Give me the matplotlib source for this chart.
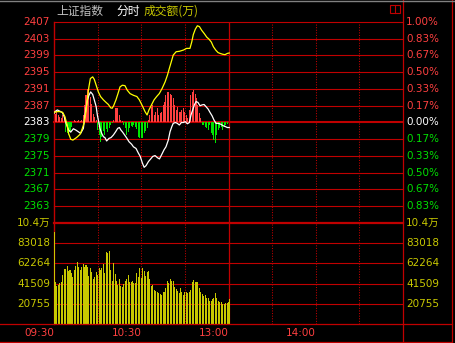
import numpy as np
import matplotlib
matplotlib.use("Agg")
import matplotlib.pyplot as plt
from matplotlib.transforms import blended_transform_factory
from matplotlib.lines import Line2D
from matplotlib.patches import Rectangle

plt.rcParams['font.family'] = ['DejaVu Sans', 'Noto Sans CJK SC']

W, H = 455, 343

# ---- data (minute index since 09:30) ----
prev_close = 2383
price_levels = [2407, 2403, 2399, 2395, 2391, 2387, 2383, 2379, 2375, 2371, 2367, 2363]
pct_labels = ["1.00%", "0.83%", "0.67%", "0.50%", "0.33%", "0.17%", "0.00%",
              "0.17%", "0.33%", "0.50%", "0.67%", "0.83%"]
vol_levels = [103773, 83018, 62264, 41509, 20755]
vol_labels = ["10.4万", "83018", "62264", "41509", "20755"]
time_ticks = [0, 60, 120, 180]
time_labels = ["09:30", "10:30", "13:00", "14:00"]

yellow_t = [0, 2, 4, 6, 7.5, 9, 10, 11.5, 13, 15.5, 18, 19.5, 20.6, 22, 23, 24, 25, 26.6, 27.7, 29,
            30.5, 32, 34, 35.8, 37.4, 39, 40, 41, 42.6, 44, 45.4, 47, 48.8, 50.4, 52.3, 54.6, 57,
            58.7, 61, 62.6, 64, 65.3, 67.2, 68.8, 70.6, 72.4, 74.3, 76.4, 78, 79.3, 81, 82, 84,
            86.2, 89, 91.2, 93.5, 94.7, 95.8, 97.2, 98.6, 100, 101.6, 103.4, 105, 106.6, 108.2,
            109.6, 111.2, 112.8, 114.2, 116, 117.6, 119.2, 120.5]
yellow_p = [2385.4, 2385.6, 2385.6, 2385.4, 2384.4, 2382.4, 2380.4, 2379.0, 2378.8, 2379.4, 2380.2,
            2381.6, 2382.8, 2385.6, 2388.8, 2391.5, 2393.5, 2393.9, 2393.3, 2391.9, 2390.3, 2389.2,
            2388.4, 2387.8, 2387.3, 2386.5, 2386.4, 2387.0, 2388.4, 2389.9, 2391.5, 2391.9, 2391.8,
            2390.7, 2389.9, 2389.5, 2389.2, 2388.4, 2386.8, 2385.6, 2384.8, 2386.0, 2387.3, 2388.4,
            2389.2, 2389.9, 2391.1, 2392.7, 2394.3, 2395.9, 2397.9, 2399.1, 2399.9, 2400.0, 2400.3,
            2400.7, 2400.7, 2402.2, 2404.0, 2405.3, 2406.1, 2405.9, 2405.0, 2404.2, 2403.4, 2402.9,
            2402.2, 2401.1, 2400.3, 2399.7, 2399.5, 2399.3, 2399.2, 2399.5, 2399.6]

white_t = [0, 0.7, 2.3, 4, 5.7, 7, 8.3, 10, 11.5, 13.3, 15, 16.7, 18.3, 20.2, 21, 22, 23, 24, 25.2,
           26.6, 27.7, 29, 29.8, 30.7, 31.6, 32.8, 34, 35, 36.2, 37.8, 39.2, 40.8, 42.4, 43.8, 45,
           46, 47.2, 48.8, 50, 51.6, 53.4, 54.6, 56.4, 58, 59.3, 60.8, 62, 63.3, 65, 66.5, 67.9,
           69.5, 71.1, 72.5, 74, 75.7, 77, 78.6, 79.8, 81, 82, 83.5, 84.8, 86.2, 87.6, 89, 90.3,
           91.7, 93.1, 94.2, 95.4, 96.5, 97.7, 99, 100.4, 101.8, 103.2, 104.5, 106, 107.3, 108.7,
           110, 111.4, 113, 114.6, 116.5, 118, 119.2, 120.5]
white_p = [2385.2, 2385.6, 2386.0, 2385.7, 2385.4, 2384.4, 2382.8, 2381.2, 2380.7, 2381.5, 2381.2,
           2380.8, 2380.4, 2381.6, 2384.0, 2386.4, 2388.4, 2389.5, 2390.3, 2389.7, 2388.4, 2386.8,
           2384.8, 2383.2, 2381.6, 2380.4, 2379.6, 2379.4, 2378.6, 2379.2, 2379.4, 2380.0, 2380.8,
           2381.6, 2381.8, 2381.2, 2380.7, 2379.9, 2379.3, 2378.4, 2377.8, 2377.2, 2376.8, 2375.7,
           2374.9, 2373.3, 2372.3, 2372.7, 2373.7, 2374.3, 2374.9, 2375.1, 2374.6, 2374.3, 2375.3,
           2376.5, 2377.2, 2378.8, 2380.8, 2382.0, 2382.8, 2383.0, 2382.8, 2382.4, 2383.0, 2383.0,
           2383.2, 2382.7, 2383.0, 2384.8, 2386.0, 2387.2, 2388.0, 2387.8, 2387.0, 2387.2, 2387.3,
           2386.8, 2386.2, 2385.4, 2384.6, 2383.6, 2382.8, 2382.8, 2382.6, 2382.2, 2382.0, 2381.8,
           2381.8]

# red/green strength bars, one per minute (drawn from the 2383 line)
strength = [0, 2.1, 2.5, 1.7, 1.4, 1.0, 1.7, 1.3, -2.2, -2.6, -3.0, -2.0, -1.0, 0.2, 0.5, 0.3, 0.4,
            0.6, 0.3, 0.5, 1.8, 4.2, 6.5, 8.1, 7.3, 6.2, 4.5, 2.0, 1.4, 0.5, -1.8, -3.0, -4.7, -3.4,
            -2.0, -3.0, -1.5, -2.2, -1.2, -0.6, -0.2, 0.5, 3.4, 3.5, 3.4, 1.8, 0.6, 0.3, -0.5, -1.2,
            -3.0, -2.2, -1.4, -0.8, -1.0, -0.6, -1.0, -1.5, -3.4, -3.8, -3.6, -3.8, -2.6, -2.0, -1.4,
            0.6, 1.8, 3.8, 4.2, 1.8, 2.6, 3.4, 1.8, 2.2, 2.6, 4.2, 5.0, 6.5, 7.2, 7.2, 6.8, 6.5, 5.8,
            4.2, 3.0, 3.6, 2.6, 2.4, 3.0, 3.4, 2.6, 1.8, 1.0, 3.0, 6.5, 7.2, 7.7, 6.9, 5.8, 4.2, 2.2,
            1.0, -0.6, -0.6, -1.0, -1.4, -1.8, -0.6, -2.6, -3.0, -4.2, -5.0, -3.0, -1.8, -1.4, -1.0,
            -1.8, -1.0, -0.6, -0.4, 0]

volume = [94500, 43000, 39000, 40000, 42000, 43000, 50500, 56700, 57000, 59800, 54600, 55600, 52900,
          48800, 55000, 60000, 64000, 58800, 55000, 59000, 61800, 58800, 60500, 58400, 49500, 58000,
          53600, 46400, 48800, 53600, 50000, 57400, 55600, 58000, 61800, 52900, 73500, 72800, 75200,
          55600, 44300, 62200, 51500, 44300, 40200, 46000, 39200, 38500, 41000, 44300, 46700, 50500,
          43300, 43300, 44000, 42000, 42000, 52900, 47800,
          58000, 47100, 58000, 54600, 49500, 53900, 54600, 46000, 39500, 40200, 35000, 34000, 32600,
          31600, 30900, 29900, 33300, 33300, 36800, 44300, 41900, 46000, 44300, 44300, 37800, 36100,
          34400, 31600, 36800, 33300, 29900, 33300, 33300, 31600, 33300, 35000, 43600, 45400, 42900,
          43300, 43300, 36800, 33300, 30900, 28900, 29900, 26500, 26500, 24100, 24100, 25400, 27100,
          31600, 26500, 23700, 22300, 23000, 20300, 20600, 21300, 21300, 23000, 25800]

# ---- colours ----
BG = "#000000"
GRID = "#c00000"
RED_TXT = "#ff4040"
GREEN_TXT = "#00e000"
YEL = "#c8c800"
RED_BAR = "#ff4040"
GREEN_BAR = "#00e600"

fig = plt.figure(figsize=(W / 100, H / 100), dpi=100, facecolor=BG)


def fx(px):
    return px / W


def fy(py):
    return 1 - py / H


ax_p = fig.add_axes([fx(54), fy(223), fx(403) - fx(54), fy(22) - fy(223)], facecolor=BG)
ax_v = fig.add_axes([fx(54), fy(324), fx(403) - fx(54), fy(223) - fy(324)], facecolor=BG)

for ax in (ax_p, ax_v):
    ax.set_xlim(0, 240)
    for s in ax.spines.values():
        s.set_visible(False)
    ax.set_xticks([])
    ax.set_yticks([])
    for m in (30, 60, 90, 150, 180, 210):
        ax.axvline(m, color=GRID, lw=0.75, ls=(0, (1, 1.5)), zorder=1)
    ax.axvline(120, color=GRID, lw=0.9, zorder=1)
    ax.axvline(0, color=GRID, lw=1.0, zorder=1, clip_on=False)

ax_p.set_ylim(prev_close - 24, prev_close + 24)
ax_v.set_ylim(0, vol_levels[0])

# price pane grid
for lv in price_levels:
    ax_p.axhline(lv, color=GRID, lw=1.5 if lv == prev_close else 0.8, zorder=1, clip_on=False)

# volume pane grid
for lv in vol_levels[1:]:
    ax_v.axhline(lv, color=GRID, lw=0.8, zorder=1)
ax_v.axhline(vol_levels[0], color=GRID, lw=1.6, zorder=1, clip_on=False)

# strength bars
mins = np.arange(len(strength))
st = np.array(strength)
ax_p.bar(mins, np.where(st > 0, st, 0), bottom=prev_close, width=0.7, color=RED_BAR,
         antialiased=False, zorder=2)
ax_p.bar(mins, np.where(st < 0, st, 0), bottom=prev_close, width=0.7, color=GREEN_BAR,
         antialiased=False, zorder=2)

# price lines
ax_p.plot(white_t, white_p, color="white", lw=0.9, zorder=3)
ax_p.plot(yellow_t, yellow_p, color="#ffff00", lw=0.9, zorder=3)

# volume bars
ax_v.bar(np.arange(len(volume)), volume, width=0.7, color=YEL, antialiased=False, zorder=2)

# left / right labels
tl_p = blended_transform_factory(fig.transFigure, ax_p.transData)
for lv, pct in zip(price_levels, pct_labels):
    c = RED_TXT if lv > prev_close else ("white" if lv == prev_close else GREEN_TXT)
    ax_p.text(fx(50), lv, str(lv), transform=tl_p, ha="right", va="center", color=c,
              fontsize=7.5, clip_on=False)
    ax_p.text(fx(406), lv, pct, transform=tl_p, ha="left", va="center", color=c,
              fontsize=7.5, clip_on=False)

tl_v = blended_transform_factory(fig.transFigure, ax_v.transData)
for lv, lab in zip(vol_levels, vol_labels):
    ax_v.text(fx(50), lv, lab, transform=tl_v, ha="right", va="center", color=YEL,
              fontsize=7.5, clip_on=False)
    ax_v.text(fx(406), lv, lab, transform=tl_v, ha="left", va="center", color=YEL,
              fontsize=7.5, clip_on=False)

# time axis labels
tt = blended_transform_factory(ax_v.transData, fig.transFigure)
for m, lab in zip(time_ticks, time_labels):
    ax_v.text(m, fy(333), lab, transform=tt, ha="right", va="center", color=RED_TXT,
              fontsize=7.5, clip_on=False)

# title
cjk = ['Noto Sans CJK SC', 'DejaVu Sans']
fig.text(fx(56), fy(11), "上证指数", color="#c0c0c0", fontsize=8.5, family=cjk, va="center")
fig.text(fx(116), fy(11), "分时", color="white", fontsize=8.5, family=cjk, va="center")
fig.text(fx(144), fy(11), "成交额(万)", color=YEL, fontsize=8.5, family=cjk, va="center")

# frame lines outside the panes
frame = [((0, 452), (324, 324)), ((0, 452), (342, 342)), ((403, 403), (0, 342)),
         ((452, 452), (0, 342))]
for xs, ys in frame:
    fig.add_artist(Line2D([fx(x) for x in xs], [fy(y) for y in ys], color=GRID, lw=0.9,
                          transform=fig.transFigure))
fig.add_artist(Line2D([0, 1], [fy(0.5), fy(0.5)], color="#808080", lw=1.0,
                      transform=fig.transFigure))

# small window icon top right
fig.add_artist(Rectangle((fx(390), fy(13)), fx(400) - fx(390), fy(4.5) - fy(13), fill=False,
                         ec="#c00000", lw=0.8, transform=fig.transFigure))
fig.add_artist(Line2D([fx(395), fx(395)], [fy(13), fy(4.5)], color="#c00000", lw=0.8,
                      transform=fig.transFigure))

fig.savefig("out.png", dpi=100, facecolor=BG)
